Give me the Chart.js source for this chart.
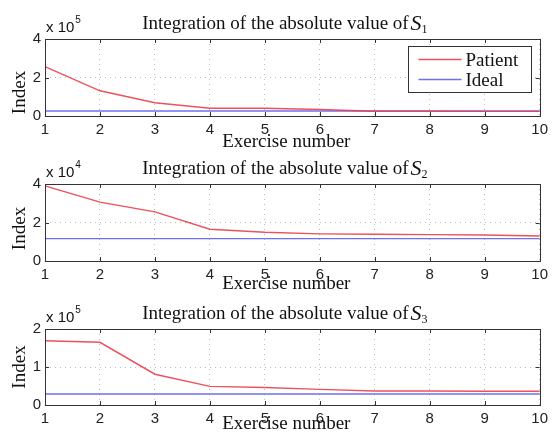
<!DOCTYPE html>
<html>
<head>
<meta charset="utf-8">
<script src="https://cdn.jsdelivr.net/npm/chart.js@4.4.0/dist/chart.umd.min.js"></script>
<style>
html, body { margin: 0; padding: 0; background: #fff; }
#wrap { position: relative; width: 553px; height: 438px; overflow: hidden; }
#wrap canvas { position: absolute; left: 0; }
</style>
</head>
<body>
<div id="wrap">
	<canvas id="chartS1" width="553" height="152" style="top:0px"></canvas>
	<canvas id="chartS2" width="553" height="152" style="top:145px"></canvas>
	<canvas id="chartS3" width="553" height="148" style="top:290px"></canvas>
</div>
<script>
// exercise numbers on the x axis
var exercises = [1, 2, 3, 4, 5, 6, 7, 8, 9, 10];

// S1 (x 10^5)
var patientS1 = [2.56, 1.31, 0.69, 0.40, 0.40, 0.34, 0.25, 0.25, 0.24, 0.24];
var idealS1   = [0.26, 0.26, 0.26, 0.26, 0.26, 0.26, 0.26, 0.26, 0.26, 0.26];
var yTicksS1  = [0, 2, 4];

// S2 (x 10^4)
var patientS2 = [3.90, 3.06, 2.55, 1.65, 1.49, 1.41, 1.39, 1.37, 1.35, 1.30];
var idealS2   = [1.16, 1.16, 1.16, 1.16, 1.16, 1.16, 1.16, 1.16, 1.16, 1.16];
var yTicksS2  = [0, 2, 4];

// S3 (x 10^5)
var patientS3 = [1.69, 1.65, 0.81, 0.49, 0.46, 0.41, 0.37, 0.37, 0.36, 0.36];
var idealS3   = [0.29, 0.29, 0.29, 0.29, 0.29, 0.29, 0.29, 0.29, 0.29, 0.29];
var yTicksS3  = [0, 1, 2];

var seriesNames = ["Patient", "Ideal"];
var exponents = [5, 4, 5];
var subscripts = ["1", "2", "3"];

var SERIF = "'Liberation Serif', 'Times New Roman', serif";
var SANS = "'Liberation Sans', Arial, sans-serif";

Chart.defaults.font.family = SANS;

// matlab-like frame, inward ticks, titles and legend
var matlabFrame = {
	id: 'matlabFrame',
	afterDraw: function(chart, args, opts){
		var ctx = chart.ctx;
		var a = chart.chartArea;
		var xs = chart.scales.x, ys = chart.scales.y;
		var cx = (a.left + a.right) / 2 - 6;
		ctx.save();

		// frame
		ctx.strokeStyle = '#333';
		ctx.lineWidth = 1;
		ctx.strokeRect(Math.round(a.left) + 0.5, Math.round(a.top) + 0.5, Math.round(a.right - a.left), Math.round(a.bottom - a.top));

		// inward ticks
		ctx.beginPath();
		xs.ticks.forEach(function(t, i){
			var px = Math.round(xs.getPixelForTick(i)) + 0.5;
			ctx.moveTo(px, a.top); ctx.lineTo(px, a.top + 4);
			ctx.moveTo(px, a.bottom); ctx.lineTo(px, a.bottom - 4);
		});
		ys.ticks.forEach(function(t){
			var py = Math.round(ys.getPixelForValue(t.value)) + 0.5;
			ctx.moveTo(a.left, py); ctx.lineTo(a.left + 4, py);
			ctx.moveTo(a.right, py); ctx.lineTo(a.right - 4, py);
		});
		ctx.stroke();

		ctx.fillStyle = '#111';
		ctx.textBaseline = 'alphabetic';

		// title with subscript
		var mainTxt = 'Integration of the absolute value of ';
		ctx.font = '19px ' + SERIF;
		var w1 = ctx.measureText(mainTxt).width;
		ctx.font = 'italic 22px ' + SERIF;
		var w2 = ctx.measureText('S').width;
		ctx.font = '12px ' + SERIF;
		var w3 = ctx.measureText(opts.sub).width;
		var tx = cx - (w1 + w2 + w3) / 2;
		var ty = a.top - 10;
		ctx.textAlign = 'left';
		ctx.font = '19px ' + SERIF;
		ctx.fillText(mainTxt, tx, ty);
		ctx.font = 'italic 22px ' + SERIF;
		ctx.fillText('S', tx + w1 - 3, ty + 1);
		ctx.font = '12px ' + SERIF;
		ctx.fillText(opts.sub, tx + w1 + w2 - 3, ty + 4);

		// exponent
		ctx.font = '15px ' + SANS;
		ctx.fillText('x 10', a.left + 1, a.top - 7);
		var we = ctx.measureText('x 10').width;
		ctx.font = '10px ' + SANS;
		ctx.fillText(String(opts.exp), a.left + 1 + we + 1, a.top - 16);

		// x label
		ctx.font = '19px ' + SERIF;
		ctx.textAlign = 'center';
		ctx.fillText('Exercise number', cx, a.bottom + opts.xGap);

		// y label
		ctx.save();
		ctx.translate(25, (a.top + a.bottom) / 2 + opts.yShift);
		ctx.rotate(-Math.PI / 2);
		ctx.fillText('Index', 0, 0);
		ctx.restore();

		// legend
		if (opts.legend) {
			var bw = 123, bh = 46;
			var bx = Math.round(a.right - 9 - bw) + 0.5, by = Math.round(a.top + 7) + 0.5;
			ctx.fillStyle = '#fff';
			ctx.fillRect(bx, by, bw, bh);
			ctx.strokeStyle = '#333';
			ctx.strokeRect(bx, by, bw, bh);
			chart.data.datasets.forEach(function(ds, i){
				var ly = by + 13 + i * 20;
				ctx.strokeStyle = ds.borderColor;
				ctx.lineWidth = 1.3;
				ctx.beginPath();
				ctx.moveTo(bx + 10, ly); ctx.lineTo(bx + 53, ly);
				ctx.stroke();
				ctx.fillStyle = '#111';
				ctx.font = '19px ' + SERIF;
				ctx.textAlign = 'left';
				ctx.fillText(ds.label, bx + 57, ly + 6);
			});
		}
		ctx.restore();
	}
};

var makeChart = function(id, patient, ideal, yTicks, idx, layout){
	var el = document.getElementById(id).getContext('2d');
	return new Chart(el, {
		type: 'line',
		data: {
			labels: exercises,
			datasets: [
				{
					label: seriesNames[0],
					data: patient,
					borderColor: 'rgba(234, 62, 74, 0.9)',
					borderWidth: 1.4,
					pointRadius: 0,
					tension: 0,
					fill: false
				},
				{
					label: seriesNames[1],
					data: ideal,
					borderColor: 'rgba(95, 95, 240, 0.9)',
					borderWidth: 1.4,
					pointRadius: 0,
					tension: 0,
					fill: false
				}
			]
		},
		options: {
			responsive: false,
			animation: false,
			devicePixelRatio: 1,
			layout: { padding: { top: layout.padTop, right: 9, left: 0, bottom: 0 } },
			plugins: {
				legend: false,
				tooltip: { enabled: false },
				matlabFrame: {
					sub: subscripts[idx],
					exp: exponents[idx],
					xGap: layout.xGap,
					yShift: layout.yShift,
					legend: idx === 0
				}
			},
			scales: {
				x: {
					type: 'category',
					offset: false,
					afterFit: function(s){ s.height = layout.axisH; },
					grid: { color: '#bdbdbd', drawTicks: false, tickLength: 0 },
					border: { display: false, dash: [1, 4] },
					ticks: { color: '#222', font: { size: 15 }, padding: 5, maxRotation: 0, autoSkip: false }
				},
				y: {
					min: yTicks[0],
					max: yTicks[yTicks.length - 1],
					afterFit: function(s){ s.width = 45; },
					afterBuildTicks: function(s){
						s.ticks = yTicks.map(function(v){ return { value: v }; });
					},
					grid: { color: '#bdbdbd', drawTicks: false, tickLength: 0 },
					border: { display: false, dash: [1, 4] },
					ticks: { color: '#222', font: { size: 15 }, padding: 4 }
				}
			}
		},
		plugins: [matlabFrame]
	});
};

makeChart('chartS1', patientS1, idealS1, yTicksS1, 0, { padTop: 39, axisH: 36, xGap: 31, yShift: 15 });
makeChart('chartS2', patientS2, idealS2, yTicksS2, 1, { padTop: 39, axisH: 36, xGap: 28, yShift: 6 });
makeChart('chartS3', patientS3, idealS3, yTicksS3, 2, { padTop: 39, axisH: 33, xGap: 24, yShift: 0 });
</script>
</body>
</html>
